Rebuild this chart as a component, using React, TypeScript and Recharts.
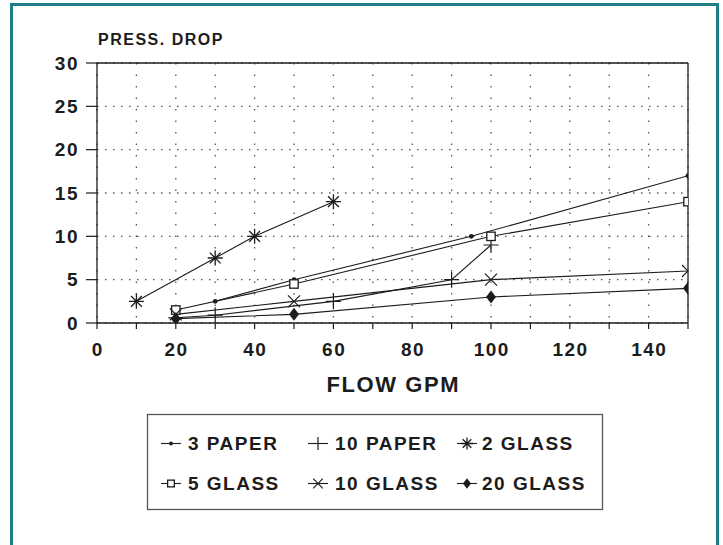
import React from 'react';
import { LineChart, Line, XAxis, YAxis, CartesianGrid, ReferenceLine } from 'recharts';

// ---- data ----
const paper3Flow = [30, 50, 95, 150];
const paper3Drop = [2.5, 5, 10, 17];
const paper10Flow = [20, 30, 60, 90, 100];
const paper10Drop = [0.6, 0.9, 2.5, 5, 9];
const glass2Flow = [10, 30, 40, 60];
const glass2Drop = [2.5, 7.5, 10, 14];
const glass5Flow = [20, 50, 100, 150];
const glass5Drop = [1.5, 4.5, 10, 14];
const glass10Flow = [20, 50, 100, 150];
const glass10Drop = [1, 2.5, 5, 6];
const glass20Flow = [20, 50, 100, 150];
const glass20Drop = [0.5, 1, 3, 4];

const xTicks = [0, 10, 20, 30, 40, 50, 60, 70, 80, 90, 100, 110, 120, 130, 140, 150];
const xLabelTicks = [0, 20, 40, 60, 80, 100, 120, 140];
const yTicks = [0, 5, 10, 15, 20, 25, 30];

const seriesNames = ['3 PAPER', '10 PAPER', '2 GLASS', '5 GLASS', '10 GLASS', '20 GLASS'];
const seriesMarkers = ['dot', 'plus', 'star', 'square', 'x', 'diamond'];

const toPts = (xs: number[], ys: number[]) => xs.map((x, i) => ({ x, y: ys[i] }));

const series = [
  toPts(paper3Flow, paper3Drop),
  toPts(paper10Flow, paper10Drop),
  toPts(glass2Flow, glass2Drop),
  toPts(glass5Flow, glass5Drop),
  toPts(glass10Flow, glass10Drop),
  toPts(glass20Flow, glass20Drop),
];

const INK = '#1c1c1c';
const FONT = '"Liberation Sans", Arial, Helvetica, sans-serif';
const TEAL = '#1f7f86';

function Marker({ kind, cx, cy, s = 1 }: { kind: string; cx: number; cy: number; s?: number }) {
  if (cx == null || cy == null) return null;
  switch (kind) {
    case 'dot':
      return <circle cx={cx} cy={cy} r={2.4 * s} fill={INK} />;
    case 'plus':
      return (
        <path
          d={`M${cx - 7.5 * s} ${cy}H${cx + 7.5 * s}M${cx} ${cy - 8 * s}V${cy + 8 * s}`}
          stroke={INK}
          strokeWidth={1.2}
          fill="none"
        />
      );
    case 'star': {
      const a = 7.5 * s;
      const d = 5.4 * s;
      return (
        <path
          d={`M${cx - a} ${cy}H${cx + a}M${cx} ${cy - a}V${cy + a}M${cx - d} ${cy - d}L${cx + d} ${cy + d}M${cx - d} ${cy + d}L${cx + d} ${cy - d}`}
          stroke={INK}
          strokeWidth={1.3}
          fill="none"
        />
      );
    }
    case 'square':
      return (
        <rect x={cx - 4.2 * s} y={cy - 4.2 * s} width={8.4 * s} height={8.4 * s} fill="#fff" stroke={INK} strokeWidth={1.3} />
      );
    case 'x': {
      const d = 6 * s;
      return (
        <path
          d={`M${cx - d} ${cy - d}L${cx + d} ${cy + d}M${cx - d} ${cy + d}L${cx + d} ${cy - d}`}
          stroke={INK}
          strokeWidth={1.2}
          fill="none"
        />
      );
    }
    case 'diamond':
      return (
        <polygon
          points={`${cx},${cy - 6.5 * s} ${cx + 5 * s},${cy} ${cx},${cy + 6.5 * s} ${cx - 5 * s},${cy}`}
          fill={INK}
        />
      );
    default:
      return null;
  }
}

const XTick = (props: any) => {
  const { x, y, payload } = props;
  const v = payload.value;
  if (!xLabelTicks.includes(v)) return <g />;
  return (
    <text x={x + 0.75} y={y + 13.6} textAnchor="middle" fill={INK} fontFamily={FONT} fontSize={19} fontWeight={700} style={{ letterSpacing: '1.5px' }}>
      {v}
    </text>
  );
};

const YTick = (props: any) => {
  const { x, y, payload } = props;
  return (
    <text x={x} y={y + 6.8} textAnchor="end" fill={INK} fontFamily={FONT} fontSize={19} fontWeight={700} style={{ letterSpacing: '1.5px' }}>
      {payload.value}
    </text>
  );
};

const legendCols = [171, 318, 467];
const legendTextX = [188, 335, 482];
const legendRowY = [443.5, 483.5];

function LegendBox() {
  return (
    <svg width={723} height={545} style={{ position: 'absolute', left: 0, top: 0, pointerEvents: 'none' }}>
      <rect x={147.5} y={414.5} width={455} height={95} fill="none" stroke="#555" strokeWidth={1.3} />
      {seriesNames.map((name, i) => {
        const col = i % 3;
        const row = Math.floor(i / 3);
        const cx = legendCols[col];
        const cy = legendRowY[row];
        return (
          <g key={name}>
            <line x1={cx - 10} x2={cx + 10} y1={cy} y2={cy} stroke={INK} strokeWidth={1.1} />
            <Marker kind={seriesMarkers[i]} cx={cx} cy={cy} s={0.8} />
            <text
              x={legendTextX[col]}
              y={cy + 6.9}
              fill={INK}
              fontFamily={FONT}
              fontSize={19}
              fontWeight={700}
              style={{ letterSpacing: '1.5px' }}
            >
              {name}
            </text>
          </g>
        );
      })}
    </svg>
  );
}

export default function App() {
  return (
    <div style={{ position: 'absolute', left: 0, top: 0, width: 723, height: 545, overflow: 'hidden', background: '#fff' }}>
      <div
        style={{
          position: 'absolute',
          left: 10,
          top: 3,
          width: 709,
          height: 620,
          boxSizing: 'border-box',
          border: `3px solid ${TEAL}`,
        }}
      />
      <div style={{ position: 'absolute', left: 0, top: 0 }}>
        <LineChart width={723} height={545} margin={{ top: 63, right: 35, bottom: 192, left: 0 }}>
          <CartesianGrid horizontal={true} vertical={false} stroke="#555" strokeWidth={1.3} strokeDasharray="1.5 6.5" />
          <CartesianGrid horizontal={false} vertical={true} stroke="#555" strokeWidth={1.3} strokeDasharray="1.5 10" />
          <XAxis
            type="number"
            dataKey="x"
            domain={[0, 150]}
            ticks={xTicks}
            interval={0}
            allowDataOverflow
            height={30}
            tickSize={6}
            tickMargin={13}
            axisLine={{ stroke: INK, strokeWidth: 1.3 }}
            tickLine={{ stroke: INK, strokeWidth: 1.2 }}
            tick={<XTick />}
            label={{
              content: (p: any) => {
                const vb = p.viewBox || { x: 97, width: 591 };
                return (
                  <text
                    x={vb.x + vb.width / 2 + 0.8}
                    y={392}
                    textAnchor="middle"
                    fill={INK}
                    fontFamily={FONT}
                    fontSize={22}
                    fontWeight={700}
                    style={{ letterSpacing: '1.6px' }}
                  >
                    FLOW GPM
                  </text>
                );
              },
            }}
          />
          <YAxis
            type="number"
            domain={[0, 30]}
            ticks={yTicks}
            interval={0}
            allowDataOverflow
            width={97}
            tickSize={11}
            tickMargin={7}
            axisLine={{ stroke: INK, strokeWidth: 1.3 }}
            tickLine={{ stroke: INK, strokeWidth: 1.2 }}
            tick={<YTick />}
            label={{
              content: (p: any) => {
                const vb = p.viewBox || { x: 0, width: 97 };
                return (
                  <text
                    x={vb.x + vb.width + 1}
                    y={45}
                    fill={INK}
                    fontFamily={FONT}
                    fontSize={16}
                    fontWeight={700}
                    style={{ letterSpacing: '1.5px' }}
                  >
                    PRESS. DROP
                  </text>
                );
              },
            }}
          />
          <ReferenceLine y={30} stroke={INK} strokeWidth={1.3} />
          <ReferenceLine x={150} stroke={INK} strokeWidth={1.3} />
          {series.map((pts, i) => (
            <Line
              key={seriesNames[i]}
              name={seriesNames[i]}
              data={pts}
              dataKey="y"
              type="linear"
              stroke={INK}
              strokeWidth={1.1}
              isAnimationActive={false}
              activeDot={false}
              dot={(p: any) => <Marker key={`${i}-${p.index}`} kind={seriesMarkers[i]} cx={p.cx} cy={p.cy} />}
            />
          ))}
        </LineChart>
      </div>
      <LegendBox />
    </div>
  );
}
